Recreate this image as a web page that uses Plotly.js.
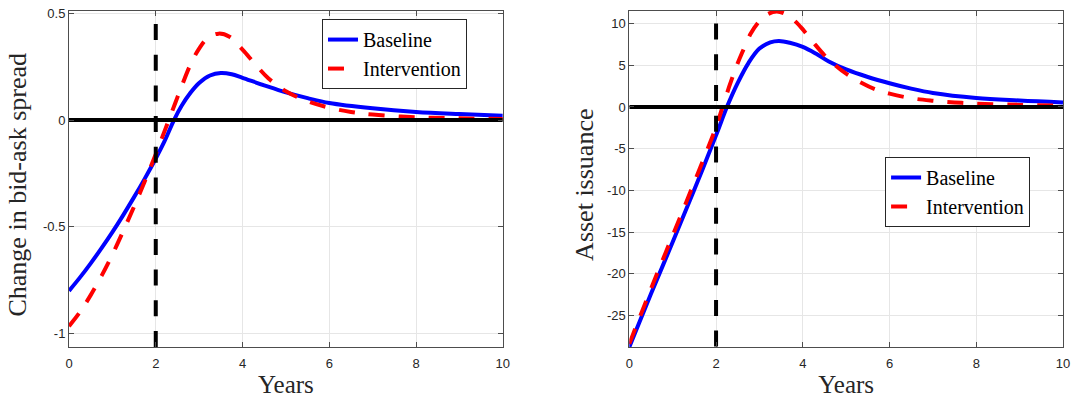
<!DOCTYPE html>
<html>
<head>
<meta charset="utf-8">
<script src="https://cdn.plot.ly/plotly-3.0.1.min.js"></script>
<style>
html,body{margin:0;padding:0;background:#ffffff;}
#chart{width:1072px;height:398px;}
</style>
</head>
<body>
<div id="chart"></div>
<script>
// ---------- Left panel: change in bid-ask spread ----------
const spreadBaselineYears = [0, 0.25, 0.5, 0.75, 1.0, 1.25, 1.5, 1.75, 2.0, 2.2, 2.42, 2.6, 2.8, 3.0, 3.25, 3.5, 3.75, 4.0, 4.5, 5.0, 5.5, 6.0, 7.0, 8.0, 9.0, 10];
const spreadBaseline = [-0.80, -0.738, -0.671, -0.600, -0.525, -0.445, -0.361, -0.273, -0.18, -0.10, 0.0, 0.068, 0.128, 0.174, 0.209, 0.221, 0.215, 0.198, 0.163, 0.13, 0.103, 0.08, 0.055, 0.038, 0.028, 0.02];

const spreadInterventionYears = [0, 0.25, 0.5, 0.75, 1.0, 1.25, 1.5, 1.75, 2.0, 2.15, 2.3, 2.45, 2.6, 2.8, 3.0, 3.2, 3.45, 3.7, 4.0, 4.3, 4.6, 5.0, 5.5, 6.0, 6.5, 7.0, 8.0, 9.0, 10];
const spreadIntervention = [-0.966, -0.90, -0.82, -0.73, -0.63, -0.52, -0.405, -0.285, -0.16, -0.08, 0.0, 0.08, 0.16, 0.26, 0.335, 0.385, 0.405, 0.39, 0.33, 0.26, 0.195, 0.135, 0.088, 0.058, 0.038, 0.026, 0.013, 0.008, 0.005];

// ---------- Right panel: asset issuance ----------
const issuanceBaselineYears = [0, 0.5, 1.0, 1.5, 2.0, 2.25, 2.5, 2.75, 3.0, 3.25, 3.45, 3.7, 4.0, 4.3, 4.6, 5.0, 5.5, 6.0, 6.5, 7.0, 8.0, 9.0, 10];
const issuanceBaseline = [-28.78, -22.4, -16.2, -9.9, -3.4, 0.0, 2.9, 5.3, 7.0, 7.75, 7.92, 7.7, 7.2, 6.4, 5.45, 4.5, 3.6, 2.85, 2.2, 1.68, 1.08, 0.78, 0.55];

const issuanceInterventionYears = [0, 0.5, 1.0, 1.5, 2.0, 2.15, 2.3, 2.45, 2.6, 2.8, 3.0, 3.2, 3.4, 3.6, 3.8, 4.0, 4.25, 4.5, 4.75, 5.0, 5.35, 5.7, 6.0, 6.5, 7.0, 7.5, 8.0, 9.0, 10];
const issuanceIntervention = [-28.4, -21.8, -15.4, -9.0, -2.4, 0.0, 2.4, 4.6, 6.5, 8.8, 10.3, 11.15, 11.45, 11.15, 10.4, 9.3, 7.7, 6.2, 5.0, 4.0, 2.9, 2.05, 1.6, 1.05, 0.75, 0.55, 0.4, 0.25, 0.15];

// ---------- Reference lines ----------
const interventionStartYears = [2, 2];
const spreadMarkerSpan = [0.45, -1.2];
const issuanceMarkerSpan = [10, -30];
const zeroLineYears = [0, 10];
const zeroLineValues = [0, 0];

// ---------- Ticks and labels ----------
const xTickVals = [0, 2, 4, 6, 8, 10];
const xTickText = ['0', '2', '4', '6', '8', '10'];
const spreadTickVals = [-1, -0.5, 0, 0.5];
const spreadTickText = ['-1', '-0.5', '0', '0.5'];
const issuanceTickVals = [-25, -20, -15, -10, -5, 0, 5, 10];
const issuanceTickText = ['-25', '-20', '-15', '-10', '-5', '0', '5', '10'];

const seriesNames = ['Baseline', 'Intervention'];
const xTitle = 'Years';
const yTitles = ['Change in bid-ask spread', 'Asset issuance'];

const BLUE = '#0000ff', RED = '#ff0000', BLACK = '#000000';
const lw = 4;

const traces = [
  {x: spreadBaselineYears, y: spreadBaseline, name: seriesNames[0], type: 'scatter', mode: 'lines',
   line: {color: BLUE, width: lw, shape: 'spline', smoothing: 1}, xaxis: 'x', yaxis: 'y', legend: 'legend'},
  {x: spreadInterventionYears, y: spreadIntervention, name: seriesNames[1], type: 'scatter', mode: 'lines',
   line: {color: RED, width: lw, dash: '16px,14px', shape: 'spline', smoothing: 1}, xaxis: 'x', yaxis: 'y', legend: 'legend'},
  {x: zeroLineYears, y: zeroLineValues, type: 'scatter', mode: 'lines', showlegend: false, hoverinfo: 'skip',
   line: {color: BLACK, width: lw}, xaxis: 'x', yaxis: 'y'},
  {x: interventionStartYears, y: spreadMarkerSpan, type: 'scatter', mode: 'lines', showlegend: false, hoverinfo: 'skip',
   line: {color: BLACK, width: lw, dash: '16px,14.7px'}, xaxis: 'x', yaxis: 'y'},

  {x: issuanceBaselineYears, y: issuanceBaseline, name: seriesNames[0], type: 'scatter', mode: 'lines',
   line: {color: BLUE, width: lw, shape: 'spline', smoothing: 1}, xaxis: 'x2', yaxis: 'y2', legend: 'legend2'},
  {x: issuanceInterventionYears, y: issuanceIntervention, name: seriesNames[1], type: 'scatter', mode: 'lines',
   line: {color: RED, width: lw, dash: '16px,14px', shape: 'spline', smoothing: 1}, xaxis: 'x2', yaxis: 'y2', legend: 'legend2'},
  {x: zeroLineYears, y: zeroLineValues, type: 'scatter', mode: 'lines', showlegend: false, hoverinfo: 'skip',
   line: {color: BLACK, width: lw}, xaxis: 'x2', yaxis: 'y2'},
  {x: interventionStartYears, y: issuanceMarkerSpan, type: 'scatter', mode: 'lines', showlegend: false, hoverinfo: 'skip',
   line: {color: BLACK, width: lw, dash: '16px,14.7px'}, xaxis: 'x2', yaxis: 'y2'}
];

const serif = 'Liberation Serif, Times New Roman, serif';
const tickFont = {family: 'Liberation Sans, Arial, sans-serif', size: 13, color: '#262626'};
const titleFont = {family: serif, size: 25, color: '#262626'};
const yTitleFont = {family: serif, size: 26, color: '#262626'};
const legendFont = {family: serif, size: 20, color: '#000000'};

function xAxis(domain, anchor) {
  return {
    domain: domain, anchor: anchor, range: [0, 10], tickvals: xTickVals, ticktext: xTickText,
    ticks: 'inside', ticklen: 5, tickwidth: 1, tickcolor: '#4d4d4d', mirror: 'ticks',
    showline: true, linecolor: '#4d4d4d', linewidth: 1, showgrid: true, gridcolor: '#e6e6e6', gridwidth: 1,
    zeroline: false, tickfont: tickFont, fixedrange: true, ticklabelstandoff: 4,
    title: {text: xTitle, font: titleFont, standoff: 6}
  };
}
function yAxis(range, vals, text, anchor) {
  return {
    domain: [0, 1], anchor: anchor, range: range, tickvals: vals, ticktext: text,
    ticks: 'inside', ticklen: 5, tickwidth: 1, tickcolor: '#4d4d4d', mirror: 'ticks',
    showline: true, linecolor: '#4d4d4d', linewidth: 1, showgrid: true, gridcolor: '#e6e6e6', gridwidth: 1,
    zeroline: false, tickfont: tickFont, fixedrange: true
  };
}

const layout = {
  width: 1072, height: 398,
  margin: {l: 69, r: 9, t: 11, b: 51, pad: 0},
  paper_bgcolor: '#ffffff', plot_bgcolor: '#ffffff',
  showlegend: true,
  xaxis: xAxis([0, 0.4364], 'y'),
  yaxis: yAxis([-1.063, 0.511], spreadTickVals, spreadTickText, 'x'),
  xaxis2: xAxis([0.5637, 1], 'y2'),
  yaxis2: yAxis([-28.78, 11.51], issuanceTickVals, issuanceTickText, 'x2'),
  annotations: [
    {text: yTitles[0], xref: 'paper', yref: 'paper', x: -0.0513, y: 0.4836, xanchor: 'center', yanchor: 'middle',
     textangle: -90, showarrow: false, font: yTitleFont},
    {text: yTitles[1], xref: 'paper', yref: 'paper', x: 0.5185, y: 0.4836, xanchor: 'center', yanchor: 'middle',
     textangle: -90, showarrow: false, font: yTitleFont}
  ],
  legend: {x: 0.2545, y: 0.976, xanchor: 'left', yanchor: 'top', bgcolor: '#ffffff',
           bordercolor: '#262626', borderwidth: 1, font: legendFont, itemwidth: 30, tracegroupgap: 0},
  legend2: {x: 0.821, y: 0.5655, xanchor: 'left', yanchor: 'top', bgcolor: '#ffffff',
            bordercolor: '#262626', borderwidth: 1, font: legendFont, itemwidth: 30, tracegroupgap: 0}
};

Plotly.newPlot('chart', traces, layout, {displayModeBar: false, staticPlot: true});
</script>
</body>
</html>
